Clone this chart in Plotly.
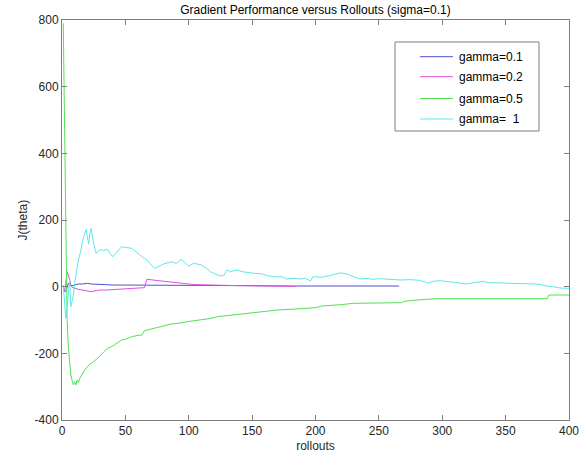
import plotly.graph_objects as go

# ---------------- data ----------------
labels = ["gamma=0.1", "gamma=0.2", "gamma=0.5", "gamma=  1"]
colors = ["#5050d2", "#e050e0", "#55e055", "#5ce9e9"]

x_g01 = [1, 2, 3, 4, 5, 6, 8, 10, 13, 16, 20, 23, 27, 30, 35, 40, 45, 50, 60, 70, 80, 90, 100, 120, 150, 180, 210, 240, 266]
y_g01 = [0, -12, -15, 0, 10, 5, 3, 5, 8, 8, 10, 8, 7, 5, 6, 5, 5, 3, 3, 3, 3, 3, 5, 4, 3, 2, 2, 2, 2]

x_g02 = [1, 2, 3, 4, 5, 6, 7, 8, 10, 13, 16, 20, 23, 27, 30, 35, 45, 55, 65, 67, 75, 85, 95, 105, 120, 140, 160, 184]
y_g02 = [-10, -15, 10, 45, 35, 15, 5, -2, -5, -8, -10, -12, -15, -12, -10, -10, -8, -6, -3, 22, 18, 14, 10, 6, 4, 3, 2, 1]

x_g05 = [1, 2, 3, 4, 5, 6, 7, 8, 9, 10, 11, 12, 13, 14, 15, 16, 18, 20, 22, 25, 28, 30, 33, 36, 40, 44, 47, 50, 55,
         60, 63, 65, 70, 73, 80, 86, 92, 99, 105, 110, 116, 123, 130, 140, 150, 160, 170, 180, 190, 200, 205, 210,
         220, 230, 240, 250, 268, 270, 280, 296, 320, 350, 383, 384, 400]
y_g05 = [790, 450, 120, -95, -180, -240, -265, -282, -295, -285, -295, -280, -288, -275, -270, -262, -250, -240,
         -232, -225, -215, -208, -195, -185, -178, -168, -160, -158, -150, -146, -145, -132, -128, -125, -118, -112,
         -110, -105, -102, -100, -96, -90, -87, -82, -78, -73, -70, -68, -66, -63, -58, -57, -54, -50, -49, -49,
         -48, -44, -40, -36, -36, -36, -36, -25, -25]

x_g1 = [1, 2, 3, 4, 5, 6, 7, 8, 9, 10, 11, 12, 13, 14, 15, 16, 17, 18, 19, 20, 21, 22, 23, 24, 25, 27, 30, 33, 36,
        38, 40, 43, 47, 50, 55, 60, 63, 67, 70, 73, 77, 80, 84, 87, 90, 94, 97, 100, 104, 107, 110, 114, 117, 121,
        125, 128, 130, 133, 138, 142, 147, 152, 158, 163, 169, 173, 177, 183, 188, 192, 196, 198, 200, 204, 210,
        215, 219, 222, 225, 230, 235, 240, 245, 251, 258, 267, 275, 282, 286, 289, 293, 298, 305, 312, 319, 325,
        332, 336, 340, 348, 355, 361, 368, 374, 378, 382, 387, 393, 400]
y_g1 = [5, -40, -95, -65, -30, 20, -60, -40, -25, 10, 40, 60, 80, 95, 110, 135, 150, 160, 172, 150, 128, 160, 175,
        150, 128, 100, 112, 108, 112, 100, 90, 102, 120, 118, 115, 100, 90, 80, 68, 55, 62, 68, 72, 75, 70, 82, 72,
        62, 70, 68, 65, 55, 45, 38, 32, 35, 50, 45, 50, 45, 42, 40, 38, 32, 29, 30, 23, 25, 23, 25, 17, 30, 30, 28,
        32, 36, 41, 40, 38, 30, 23, 25, 22, 24, 22, 20, 21, 19, 15, 11, 16, 18, 15, 12, 8, 12, 16, 12, 11, 11, 10,
        10, 9, 8, 6, 2, 0, -4, -5]

x_ticks = [0, 50, 100, 150, 200, 250, 300, 350, 400]
y_ticks = [-400, -200, 0, 200, 400, 600, 800]

series = [(x_g01, y_g01), (x_g02, y_g02), (x_g05, y_g05), (x_g1, y_g1)]

# ---------------- figure ----------------
W, H = 580, 455
L, R, T, B = 62, 11, 20, 35
FONT = "Liberation Sans, Arial, Helvetica, sans-serif"

fig = go.Figure()
for (xs, ys), name, c in zip(series, labels, colors):
    fig.add_trace(go.Scatter(x=xs, y=ys, mode="lines", name=name,
                             line=dict(color=c, width=1), showlegend=False))

axis_common = dict(showgrid=False, zeroline=False, showline=True, linecolor="#7f7f7f", linewidth=1,
                   mirror="ticks", ticks="inside", ticklen=5, tickcolor="#7f7f7f", automargin=False,
                   tickfont=dict(family=FONT, size=12, color="#262626"))

fig.update_xaxes(range=[0, 400], tickvals=x_ticks, ticktext=[str(v) for v in x_ticks],
                 title=dict(text="rollouts", font=dict(family=FONT, size=12, color="#262626"), standoff=4),
                 **axis_common)
fig.update_yaxes(range=[-400, 800], tickvals=y_ticks, ticktext=[str(v) for v in y_ticks],
                 **axis_common)

pw, ph = W - L - R, H - T - B
def px_x(p):
    return (p - L) / pw
def px_y(p):
    return (H - B - p) / ph

# y-axis title
fig.add_annotation(xref="paper", yref="paper", x=px_x(22.5), y=0.5, xanchor="center", yanchor="middle",
                   text="J(theta)", textangle=-90, showarrow=False,
                   font=dict(family=FONT, size=12, color="#262626"))

# manual legend (paper coordinates)
fig.add_shape(type="rect", xref="paper", yref="paper",
              x0=px_x(395), x1=px_x(539), y0=px_y(131), y1=px_y(42),
              line=dict(color="#7f7f7f", width=1), fillcolor="white", layer="above")
rows = [56.7, 76.7, 98.5, 119]
for r, name, c in zip(rows, labels, colors):
    fig.add_shape(type="line", xref="paper", yref="paper",
                  x0=px_x(420), x1=px_x(453), y0=px_y(r), y1=px_y(r),
                  line=dict(color=c, width=1), layer="above")
    fig.add_annotation(xref="paper", yref="paper", x=px_x(457), y=px_y(r),
                       xanchor="left", yanchor="middle", text=name, showarrow=False,
                       font=dict(family=FONT, size=12, color="#000000"))

fig.update_layout(
    template="none",
    width=W, height=H,
    margin=dict(l=L, r=R, t=T, b=B, autoexpand=False),
    paper_bgcolor="white", plot_bgcolor="white",
    title=dict(text="Gradient Performance versus Rollouts (sigma=0.1)",
               x=(L + pw / 2) / W, xanchor="center", y=1 - 10 / H, yanchor="middle",
               font=dict(family=FONT, size=12, color="#000000")),
    showlegend=False,
)

fig.write_html("out.html")
